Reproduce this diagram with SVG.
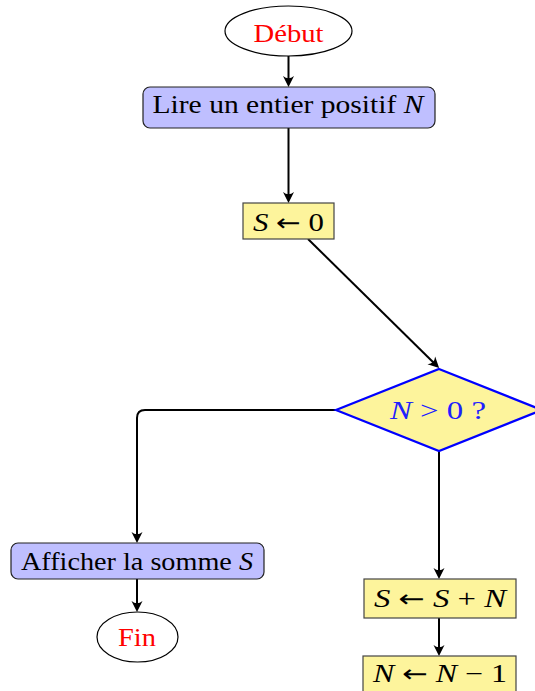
<svg xmlns="http://www.w3.org/2000/svg" width="535" height="691" viewBox="0 0 535 691">
<style>
  text { font-family: "Liberation Serif", "DejaVu Serif", serif; font-size: 25px; text-anchor: middle; }
  .it { font-style: italic; }
  .ar { font-family: "DejaVu Sans", sans-serif; font-size: 24px; }
  .term { fill: #ffffff; stroke: #000000; stroke-width: 1.2; }
  .io { fill: #bfbfff; stroke: #222222; stroke-width: 1.2; }
  .proc { fill: #fdf49c; stroke: #444444; stroke-width: 1.2; }
  .dec { fill: #fdf49c; stroke: #0000ff; stroke-width: 2.2; }
  .red { fill: #ff0000; }
  .blue { fill: #2020ff; }
  .conn path { fill: none; stroke: #000000; stroke-width: 2; marker-end: url(#arr); }
</style>
<defs>
  <marker id="arr" markerUnits="userSpaceOnUse" viewBox="-9 -6 13 12" refX="0" refY="0" markerWidth="13" markerHeight="12" orient="auto">
    <path d="M3,0 L-8,-5.5 Q-3.5,0 -8,5.5 Z" fill="#000000"/>
  </marker>
</defs>

<g class="conn" id="connectors">
  <path d="M288.5 56 V84"/>
  <path d="M288.5 128 V200"/>
  <path d="M308 239 L437 366"/>
  <path d="M336 410 H145 Q137 410 137 418 V540"/>
  <path d="M137 579 V609"/>
  <path d="M439 451 V576"/>
  <path d="M439 618 V653"/>
</g>

<g id="debut">
  <ellipse class="term" cx="288.5" cy="31" rx="63.5" ry="25"/>
  <text x="288.5" y="42" class="red" textLength="70" lengthAdjust="spacingAndGlyphs">Début</text>
</g>

<g id="lire">
  <rect class="io" x="143" y="87" width="292" height="41" rx="7"/>
  <text x="288" y="113" textLength="271" lengthAdjust="spacingAndGlyphs">Lire un entier positif <tspan class="it">N</tspan></text>
</g>

<g id="init">
  <rect class="proc" x="243" y="203" width="91" height="36"/>
  <text x="288.5" y="231" textLength="71" lengthAdjust="spacingAndGlyphs"><tspan class="it">S</tspan> <tspan class="ar">←</tspan> 0</text>
</g>

<g id="test">
  <polygon class="dec" points="439,369 542,410 439,451 336,410"/>
  <text x="438" y="419" class="blue" textLength="96" lengthAdjust="spacingAndGlyphs"><tspan class="it">N</tspan> &gt; 0  ?</text>
</g>

<g id="afficher">
  <rect class="io" x="11" y="543" width="253" height="36" rx="7"/>
  <text x="137" y="570" textLength="232" lengthAdjust="spacingAndGlyphs">Afficher la somme <tspan class="it">S</tspan></text>
</g>

<g id="fin">
  <ellipse class="term" cx="137.5" cy="637" rx="40.5" ry="25"/>
  <text x="137" y="646" class="red" textLength="38" lengthAdjust="spacingAndGlyphs">Fin</text>
</g>

<g id="somme">
  <rect class="proc" x="364" y="579" width="152" height="39"/>
  <text x="440" y="607" textLength="132" lengthAdjust="spacingAndGlyphs"><tspan class="it">S</tspan> <tspan class="ar">←</tspan> <tspan class="it">S</tspan> + <tspan class="it">N</tspan></text>
</g>

<g id="decr">
  <rect class="proc" x="363" y="656" width="153" height="39"/>
  <text x="440" y="682" textLength="134" lengthAdjust="spacingAndGlyphs"><tspan class="it">N</tspan> <tspan class="ar">←</tspan> <tspan class="it">N</tspan> − 1</text>
</g>
</svg>
